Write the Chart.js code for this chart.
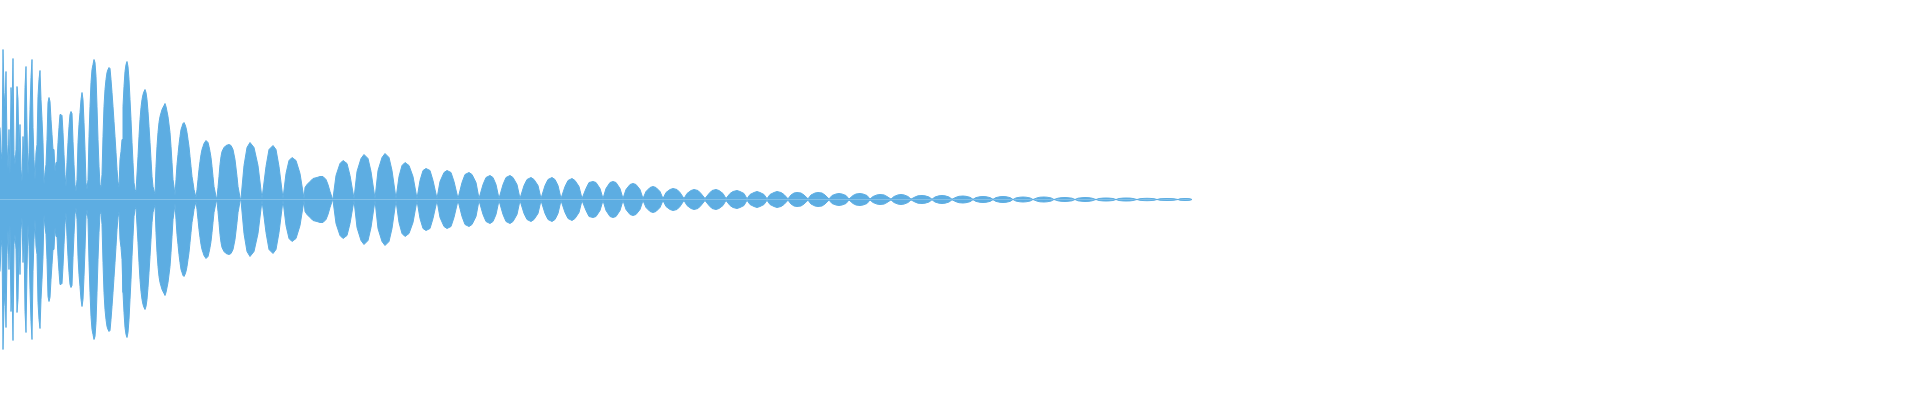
<!DOCTYPE html>
<html>
<head>
<meta charset="utf-8">
<script src="https://cdn.jsdelivr.net/npm/chart.js@4.4.1/dist/chart.umd.min.js"></script>
<style>
  html, body { margin: 0; padding: 0; background: #ffffff; }
  #wrap { width: 1920px; height: 400px; position: relative; }
</style>
</head>
<body>
<div id="wrap"><canvas id="c"></canvas></div>
<script>
// Envelope amplitude of the waveform, one value per sample column (sample index = position in array)
const headAmp = [
  72,48,40,150,107,92,128,55,30,70,
  25,112,90,141,45,35,50,113,100,45,
  75,30,18,63,40,112,133,70,25,47,
  90,122,140,72,40,20,47,55,103,120,
  129,100,80,57,15,27,35,60,97,102,
  98,80,65,50,50,28,37,37,57,72,
  85,85,84,67,45,25,13,37,57,73,
  85,88,86,58,35,15,8,20,57,75,
  87,100,107,100,77,50,17,10,20,63,
  93,117,130,135,140,137,123,93,60,33,
  15,12,25,63,93,110,120,127,130,132,
  131,120,107,93,78,63,47,30,18,12,
  40,48,60,93,113,128,135,138,133,120,
  100,80,57,37,17,10
];

// Beat lobes: sample index and envelope amplitude
const lobeTime = [
  136,138,139,140,141,142,143,144,145,146,147,148,149,150,151,152,153,155,
  156,157,158,159,160,162,164,165,166,168,170,171,172,173,174,175,
  176,177,178,179,180,181,182,183,184,185,186,187,188,189,190,191,192,193,194,196,
  197,198,199,200,201,202,203,204,206,208,209,210,211,212,213,214,216,217,
  218,219,220,221,222,224,226,229,231,233,235,237,238,240,
  241,244,247,250,254,258,262,
  266,269,273,276,279,283,
  286,289,292,296,300,304,
  305,307,310,313,317,320,323,326,328,330,332,333,
  336,340,343,347,350,354,
  357,361,364,368,371,375,
  378,382,385,389,392,396
];
const lobeAmp = [
  8,43,63,80,92,100,105,108,110,107,100,88,73,57,40,23,13,5,
  33,53,67,77,83,90,94,96,93,83,67,53,37,20,13,4,
  20,35,45,55,63,70,73,76,77,75,72,67,60,53,43,33,23,17,10,2,
  10,20,30,38,45,50,53,56,59,57,53,48,42,33,23,13,3,2,
  12,23,35,43,48,52,54,55,54,50,40,23,13,2,
  1,34,52,57,52,34,1,
  33,50,54,50,33,1,
  26,39,42,39,26,1,
  12,15,18,21,22,23,23,20,15,8,2,1,
  24,36,39,36,24,1,
  28,41,45,41,28,1,
  29,42,46,42,29,1
];

// Decaying tail
const tailTime = [
  399,402,405,409,413,417, 420,423,426,430,433,437, 440,444,447,451,454,458,
  462,465,469,472,476,479, 483,486,490,493,496,499, 503,506,510,513,517,520,
  524,527,531,534,538,541, 545,548,552,555,558,561, 565,568,572,575,579,582,
  586,589,593,596,600,603, 606,610,613,616,620,623, 626,630,633,636,640,643,
  646,650,653,656,660,663, 666,670,673,677,680,684, 687,691,694,698,701,705,
  709,712,716,719,723,726, 730,733,737,740,744,747, 750,754,757,760,764,767,
  770,774,777,781,784,788, 791,794,797,801,804,808, 811,815,818,822,825,829,
  832,836,839,842,846,849, 853,856,860,863,867,870, 873,877,880,884,887,891,
  894,898,901,904,908,911, 915,918,922,925,929,932, 935,939,942,945,949,952,
  956,959,963,966,970,973, 976,980,983,986,990,993, 996,1000,1003,1006,1010,1013,
  1016,1020,1023,1026,1030,1033, 1037,1040,1044,1047,1051,1054, 1058,1061,1065,1068,1072,1075,
  1078,1082,1085,1089,1092,1096, 1099,1103,1106,1109,1113,1116, 1119,1123,1126,1130,1133,1137,
  1140,1144,1147,1150,1154,1157, 1160,1164,1167,1171,1174,1178, 1180,1183,1185,1188,1190,1192
];
const tailAmp = [
  23,34,37,34,23,1, 19,29,31,29,19,1, 18,27,29,27,18,1,
  17,25,27,25,17,1, 15,22,24,22,15,1, 15,22,24,22,15,1,
  14,20,22,20,14,1, 14,20,22,20,14,1, 13,19,21,19,13,1,
  11,17,18,17,11,1, 11,17,18,17,11,1, 10,15,16,15,10,1,
  8,12,13,12,8,1, 7,10,11,10,7,1, 6,9,10,9,6,1,
  6,9,10,9,6,1, 6,8,9,8,6,0.8, 5,7,8,7,5,0.8,
  5,7,8,7,5,0.7, 4.5,6.5,7,6.5,4.5,0.7, 4.5,6.5,7,6.5,4.5,0.6,
  4,5.5,6,5.5,4,0.5, 4,5.5,6,5.5,4,0.5, 3,4.6,5,4.6,3,0.4,
  3,4.6,5,4.6,3,0.4, 2.5,3.7,4,3.7,2.5,0.3, 2.5,3.7,4,3.7,2.5,0.3,
  2.2,3.2,3.5,3.2,2.2,0.2, 1.9,2.8,3,2.8,1.9,0.2, 1.9,2.8,3,2.8,1.9,0,
  1.6,2.3,2.5,2.3,1.6,0, 1.6,2.3,2.5,2.3,1.6,0, 1.3,1.8,2,1.8,1.3,0,
  1.3,1.8,2,1.8,1.3,0, 1,1.4,1.5,1.4,1,0, 1,1.4,1.5,1.4,1,0,
  0.8,1.1,1.2,1.1,0.8,0, 0.7,0.9,1,0.9,0.7,0, 0.7,0.9,1,0.9,0.7,0
];

const sampleCount = 1920;
const waveColor = '#5DADE2';

const upper = [];
headAmp.forEach((a, i) => upper.push({ x: i, y: a }));
lobeTime.forEach((t, i) => upper.push({ x: t, y: lobeAmp[i] }));
tailTime.forEach((t, i) => upper.push({ x: t, y: tailAmp[i] }));
const lower = upper.map(p => ({ x: p.x, y: -p.y }));

new Chart(document.getElementById('c'), {
  type: 'line',
  data: {
    datasets: [
      { data: upper, borderColor: waveColor, backgroundColor: waveColor, borderWidth: 1,
        pointRadius: 0, tension: 0, fill: 'origin' },
      { data: lower, borderColor: waveColor, backgroundColor: waveColor, borderWidth: 1,
        pointRadius: 0, tension: 0, fill: 'origin' }
    ]
  },
  options: {
    responsive: true,
    maintainAspectRatio: false,
    animation: false,
    layout: { padding: 0 },
    plugins: { legend: { display: false }, tooltip: { enabled: false } },
    scales: {
      x: { type: 'linear', display: false, min: 0, max: sampleCount },
      y: { type: 'linear', display: false, min: -200.5, max: 199.5 }
    }
  }
});
</script>
</body>
</html>
